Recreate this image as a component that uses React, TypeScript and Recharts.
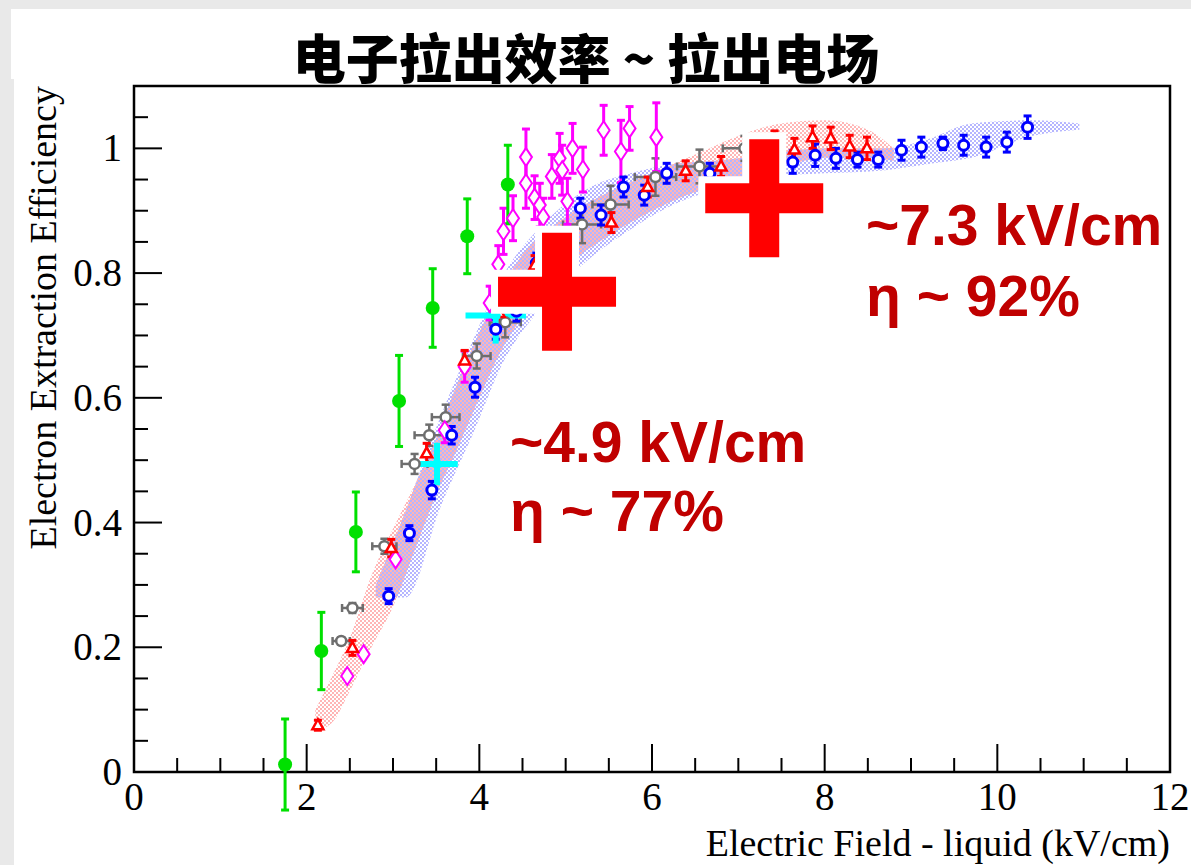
import React from 'react';
import { ComposedChart, XAxis, YAxis, Scatter, Area, ErrorBar, ReferenceArea } from 'recharts';

// ---- measurement series (field in kV/cm, extraction efficiency) ----
const GREEN_FIELD = [1.75, 2.17, 2.57, 3.07, 3.46, 3.86, 4.33];
const GREEN_EFF = [0.012, 0.194, 0.385, 0.595, 0.744, 0.859, 0.942];
const GREEN_ERR = [0.073, 0.062, 0.064, 0.073, 0.063, 0.06, 0.063];

const RED_FIELD = [2.13, 2.53, 2.98, 3.39, 3.83, 4.23, 4.64, 5.53, 5.95, 6.39, 6.8, 7.42, 7.65, 7.86, 8.07, 8.29, 8.49];
const RED_EFF = [0.075, 0.199, 0.359, 0.511, 0.66, 0.736, 0.812, 0.881, 0.938, 0.964, 0.971, 1.01, 0.998, 1.018, 1.016, 1.003, 1.0];
const RED_ERR = [0.008, 0.012, 0.014, 0.016, 0.016, 0.016, 0.016, 0.016, 0.016, 0.016, 0.016, 0.018, 0.018, 0.018, 0.018, 0.018, 0.018];

const BLUE_FIELD = [2.95, 3.19, 3.45, 3.68, 3.95, 4.19, 4.43, 4.66, 5.17, 5.41, 5.67, 5.91, 6.17, 6.67, 7.39, 7.63, 7.89, 8.13, 8.38, 8.62, 8.89, 9.12, 9.37, 9.61, 9.87, 10.11, 10.35];
const BLUE_EFF = [0.282, 0.383, 0.452, 0.54, 0.617, 0.71, 0.739, 0.816, 0.904, 0.893, 0.938, 0.925, 0.96, 0.96, 0.971, 0.978, 0.989, 0.984, 0.982, 0.982, 0.997, 1.002, 1.008, 1.005, 1.002, 1.01, 1.034];
const BLUE_ERR = [0.012, 0.012, 0.014, 0.014, 0.016, 0.016, 0.016, 0.016, 0.016, 0.016, 0.016, 0.016, 0.016, 0.016, 0.018, 0.018, 0.018, 0.016, 0.012, 0.012, 0.016, 0.016, 0.01, 0.016, 0.016, 0.016, 0.018];

const GRAY_FIELD = [2.4, 2.53, 2.9, 3.25, 3.42, 3.61, 3.97, 4.3, 5.19, 5.52, 6.04, 6.55, 7.07];
const GRAY_EFF = [0.21, 0.263, 0.362, 0.494, 0.54, 0.569, 0.667, 0.721, 0.878, 0.91, 0.954, 0.971, 1.0];
const GRAY_FIELD_ERR = [0.1, 0.12, 0.14, 0.15, 0.17, 0.16, 0.16, 0.18, 0.22, 0.21, 0.24, 0.26, 0.25];
const GRAY_EFF_ERR = [0.006, 0.008, 0.012, 0.016, 0.017, 0.02, 0.02, 0.024, 0.03, 0.03, 0.03, 0.027, 0.02];

const MAGENTA_FIELD = [2.47, 2.66, 3.03, 3.6, 3.83, 4.12, 4.22, 4.28, 4.39, 4.54, 4.54, 4.64, 4.7, 4.74, 4.84, 4.93, 4.96, 5.02, 5.08, 5.2, 5.44, 5.64, 5.74, 6.05];
const MAGENTA_EFF = [0.154, 0.189, 0.341, 0.548, 0.65, 0.752, 0.814, 0.867, 0.888, 0.986, 0.944, 0.921, 0.909, 0.89, 0.955, 0.984, 0.965, 0.915, 1.0, 0.966, 1.029, 0.995, 1.032, 1.018];
const MAGENTA_ERR = [0, 0, 0, 0.02, 0.025, 0.027, 0.03, 0.037, 0.036, 0.045, 0.04, 0.035, 0.035, 0.03, 0.035, 0.04, 0.04, 0.037, 0.04, 0.036, 0.04, 0.05, 0.035, 0.055];

const CYAN_FIELD = [3.51, 4.19];
const CYAN_EFF = [0.494, 0.732];
const CYAN_FIELD_ERR = [0.24, 0.35];
const CYAN_EFF_ERR = [0.034, 0.045];

// ---- uncertainty bands ----
const RED_BAND_FIELD = [2.1, 2.3, 2.5, 2.75, 3.0, 3.25, 3.5, 3.75, 4.0, 4.25, 4.5, 5.0, 5.5, 6.0, 6.5, 7.0, 7.5, 8.0, 8.5, 8.8];
const RED_BAND_LOW = [0.065, 0.08, 0.13, 0.2, 0.265, 0.355, 0.445, 0.52, 0.6, 0.675, 0.73, 0.81, 0.86, 0.9, 0.93, 0.95, 0.97, 0.985, 0.985, 0.98];
const RED_BAND_HIGH = [0.1, 0.155, 0.215, 0.315, 0.39, 0.46, 0.535, 0.625, 0.705, 0.775, 0.83, 0.89, 0.93, 0.96, 0.99, 1.02, 1.04, 1.045, 1.03, 1.0];

const BLUE_BAND_FIELD = [2.8, 3.15, 3.55, 3.95, 4.25, 4.75, 5.25, 5.75, 6.25, 6.75, 7.3, 8.0, 8.7, 9.2, 9.7, 10.4, 10.95];
const BLUE_BAND_LOW = [0.28, 0.28, 0.425, 0.55, 0.65, 0.75, 0.82, 0.87, 0.91, 0.935, 0.955, 0.96, 0.965, 0.975, 0.985, 1.02, 1.03];
const BLUE_BAND_HIGH = [0.3, 0.42, 0.57, 0.7, 0.79, 0.88, 0.935, 0.96, 0.975, 0.98, 0.99, 1.0, 1.0, 1.015, 1.04, 1.045, 1.04];

// ---- highlighted operating points ----
const MARK_FIELD = [4.9, 7.3];
const MARK_EFF = [0.77, 0.92];
const MARK_TEXT = [
  ['~4.9 kV/cm', 'η ~ 77%'],
  ['~7.3 kV/cm', 'η ~ 92%'],
];

// ---- axis ticks ----
const X_TICKS = [0, 0.5, 1, 1.5, 2, 2.5, 3, 3.5, 4, 4.5, 5, 5.5, 6, 6.5, 7, 7.5, 8, 8.5, 9, 9.5, 10, 10.5, 11, 11.5, 12];
const X_LABELS = [0, 2, 4, 6, 8, 10, 12];
const Y_TICKS = [0, 0.05, 0.1, 0.15, 0.2, 0.25, 0.3, 0.35, 0.4, 0.45, 0.5, 0.55, 0.6, 0.65, 0.7, 0.75, 0.8, 0.85, 0.9, 0.95, 1, 1.05, 1.1];
const Y_LABELS = ['0', '0.2', '0.4', '0.6', '0.8', '1'];

const green = GREEN_FIELD.map((x, i) => ({ x, y: GREEN_EFF[i], ey: GREEN_ERR[i] }));
const red = RED_FIELD.map((x, i) => ({ x, y: RED_EFF[i], ey: RED_ERR[i] }));
const blue = BLUE_FIELD.map((x, i) => ({ x, y: BLUE_EFF[i], ey: BLUE_ERR[i] }));
const gray = GRAY_FIELD.map((x, i) => ({ x, y: GRAY_EFF[i], ex: GRAY_FIELD_ERR[i], ey: GRAY_EFF_ERR[i] }));
const magenta = MAGENTA_FIELD.map((x, i) => ({ x, y: MAGENTA_EFF[i], ey: MAGENTA_ERR[i] }));
const cyan = CYAN_FIELD.map((x, i) => ({ x, y: CYAN_EFF[i], ex: CYAN_FIELD_ERR[i], ey: CYAN_EFF_ERR[i] }));
const redBand = RED_BAND_FIELD.map((x, i) => ({ x, range: [RED_BAND_LOW[i], RED_BAND_HIGH[i]] }));
const blueBand = BLUE_BAND_FIELD.map((x, i) => ({ x, range: [BLUE_BAND_LOW[i], BLUE_BAND_HIGH[i]] }));
const marks = MARK_FIELD.map((x, i) => ({ x, y: MARK_EFF[i] }));

const SERIF = '"Liberation Serif", "Times New Roman", "DejaVu Serif", serif';
const SANS = '"Liberation Sans", Arial, "DejaVu Sans", sans-serif';
const DARK_RED = '#c00000';

const near = (a: number, b: number) => Math.abs(a - b) < 1e-6;

// ticks point into the frame, ROOT style
const XTick = (props: any) => {
  const { x, y, payload } = props;
  const v = payload.value as number;
  const major = X_LABELS.some((l) => near(l, v));
  return (
    <g>
      <line x1={x} x2={x} y1={y} y2={y - (major ? 28 : 14)} stroke="#000" strokeWidth={2} />
      {major && (
        <text x={x} y={y + 38} textAnchor="middle" fontFamily={SERIF} fontSize={39} fill="#000">
          {v}
        </text>
      )}
    </g>
  );
};

const YTick = (props: any) => {
  const { x, y, payload } = props;
  const v = payload.value as number;
  const label = Y_LABELS.find((l) => near(parseFloat(l), v));
  return (
    <g>
      <line x1={x} x2={x + (label ? 28 : 14)} y1={y} y2={y} stroke="#000" strokeWidth={2} />
      {label && (
        <text x={x - 12} y={y + 13} textAnchor="end" fontFamily={SERIF} fontSize={39} fill="#000">
          {label}
        </text>
      )}
    </g>
  );
};

const GreenDot = (p: any) => <circle cx={p.cx} cy={p.cy} r={7} fill="#00e000" />;
const BlueDot = (p: any) => <circle cx={p.cx} cy={p.cy} r={5} fill="#fff" stroke="#0000ff" strokeWidth={3} />;
const GrayDot = (p: any) => <circle cx={p.cx} cy={p.cy} r={5} fill="#fff" stroke="#6e6e6e" strokeWidth={2.5} />;
const CyanDot = (p: any) => <circle cx={p.cx} cy={p.cy} r={5} fill="#00ffff" />;
const RedTriangle = (p: any) => (
  <polygon
    points={`${p.cx},${p.cy - 6} ${p.cx + 5.5},${p.cy + 4} ${p.cx - 5.5},${p.cy + 4}`}
    fill="#fff"
    stroke="#ff0000"
    strokeWidth={2.5}
  />
);
const MagentaDiamond = (p: any) => (
  <polygon
    points={`${p.cx},${p.cy - 9} ${p.cx + 6},${p.cy} ${p.cx},${p.cy + 9} ${p.cx - 6},${p.cy}`}
    fill="#fff"
    stroke="#ff00ff"
    strokeWidth={2}
  />
);

const Plus = (p: any) => {
  const a = 59;
  const t = 15;
  const { cx, cy } = p;
  const d = `M${cx - t},${cy - a} h${2 * t} v${a - t} h${a - t} v${2 * t} h${-(a - t)} v${a - t} h${-2 * t} v${-(a - t)} h${-(a - t)} v${-2 * t} h${a - t} Z`;
  return (
    <g>
      <path d={d} fill="#fff" stroke="#fff" strokeWidth={14} />
      <path d={d} fill="#ff0000" />
    </g>
  );
};

export default function App() {
  return (
    <div style={{ position: 'absolute', left: 0, top: 0, width: 1191, height: 865, background: '#e9e9e9', overflow: 'hidden' }}>
      <div style={{ position: 'absolute', left: 11, top: 9, width: 1180, height: 70, background: '#fff' }} />
      <div style={{ position: 'absolute', left: 14, top: 78, width: 1177, height: 787, background: '#fff' }} />
      <div style={{ position: 'absolute', left: 0, top: 0 }}>
        <ComposedChart width={1191} height={865} margin={{ top: 86, right: 21, bottom: 0, left: 0 }}>
          <defs>
            <pattern id="redHatch" width="4" height="4" patternUnits="userSpaceOnUse">
              <rect x="0" y="0" width="2" height="2" fill="#ff5a5a" fillOpacity="0.45" />
              <rect x="2" y="2" width="2" height="2" fill="#ff5a5a" fillOpacity="0.45" />
            </pattern>
            <pattern id="blueHatch" width="4" height="4" patternUnits="userSpaceOnUse">
              <rect x="2" y="0" width="2" height="2" fill="#5a5aff" fillOpacity="0.45" />
              <rect x="0" y="2" width="2" height="2" fill="#5a5aff" fillOpacity="0.45" />
            </pattern>
          </defs>
          <XAxis
            type="number"
            dataKey="x"
            domain={[0, 12]}
            ticks={X_TICKS}
            interval={0}
            tick={<XTick />}
            tickLine={false}
            axisLine={false}
            tickSize={0}
            tickMargin={0}
            height={93}
            allowDataOverflow
          />
          <YAxis
            type="number"
            domain={[0, 1.1]}
            ticks={Y_TICKS}
            interval={0}
            tick={<YTick />}
            tickLine={false}
            axisLine={false}
            tickSize={0}
            tickMargin={0}
            width={134}
            allowDataOverflow
          />
          <Area data={blueBand} dataKey="range" type="monotone" stroke="none" fill="url(#blueHatch)" fillOpacity={1} dot={false} activeDot={false} isAnimationActive={false} />
          <Area data={redBand} dataKey="range" type="monotone" stroke="none" fill="url(#redHatch)" fillOpacity={1} dot={false} activeDot={false} isAnimationActive={false} />
          <ReferenceArea x1={0} x2={12} y1={0} y2={1.1} fill="none" stroke="#000" strokeWidth={2.5} ifOverflow="visible" />
          <Scatter data={gray} dataKey="y" shape={GrayDot} isAnimationActive={false}>
            <ErrorBar dataKey="ex" direction="x" width={4} strokeWidth={2.5} stroke="#6e6e6e" />
            <ErrorBar dataKey="ey" direction="y" width={4} strokeWidth={2.5} stroke="#6e6e6e" />
          </Scatter>
          <Scatter data={magenta} dataKey="y" shape={MagentaDiamond} isAnimationActive={false}>
            <ErrorBar dataKey="ey" direction="y" width={4} strokeWidth={3} stroke="#ff00ff" />
          </Scatter>
          <Scatter data={blue} dataKey="y" shape={BlueDot} isAnimationActive={false}>
            <ErrorBar dataKey="ey" direction="y" width={4} strokeWidth={3} stroke="#0000ff" />
          </Scatter>
          <Scatter data={red} dataKey="y" shape={RedTriangle} isAnimationActive={false}>
            <ErrorBar dataKey="ey" direction="y" width={4} strokeWidth={3} stroke="#ff0000" />
          </Scatter>
          <Scatter data={cyan} dataKey="y" shape={CyanDot} isAnimationActive={false}>
            <ErrorBar dataKey="ex" direction="x" width={0} strokeWidth={6} stroke="#00ffff" />
            <ErrorBar dataKey="ey" direction="y" width={0} strokeWidth={6} stroke="#00ffff" />
          </Scatter>
          <Scatter data={green} dataKey="y" shape={GreenDot} isAnimationActive={false}>
            <ErrorBar dataKey="ey" direction="y" width={4} strokeWidth={3} stroke="#00e000" />
          </Scatter>
          <Scatter data={marks} dataKey="y" shape={Plus} isAnimationActive={false} />
        </ComposedChart>
      </div>
      <svg width={1191} height={865} style={{ position: 'absolute', left: 0, top: 0, pointerEvents: 'none' }}>
        <text x={586} y={79} textAnchor="middle" fontFamily='"Noto Sans CJK SC", sans-serif' fontWeight={900} fontSize={53} fill="#000">
          电子拉出效率 ~ 拉出电场
        </text>
        <text transform="translate(56,86) rotate(-90)" textAnchor="end" fontFamily={SERIF} fontSize={38} fill="#000">
          Electron Extraction Efficiency
        </text>
        <text x={1170} y={856} textAnchor="end" fontFamily={SERIF} fontSize={38} fill="#000">
          Electric Field - liquid (kV/cm)
        </text>
        <text x={510} y={462} fontFamily={SANS} fontWeight={700} fontSize={57} fill={DARK_RED}>{MARK_TEXT[0][0]}</text>
        <text x={510} y={531} fontFamily={SANS} fontWeight={700} fontSize={57} fill={DARK_RED}>{MARK_TEXT[0][1]}</text>
        <text x={866} y={245} fontFamily={SANS} fontWeight={700} fontSize={57} fill={DARK_RED}>{MARK_TEXT[1][0]}</text>
        <text x={866} y={316} fontFamily={SANS} fontWeight={700} fontSize={57} fill={DARK_RED}>{MARK_TEXT[1][1]}</text>
      </svg>
    </div>
  );
}
